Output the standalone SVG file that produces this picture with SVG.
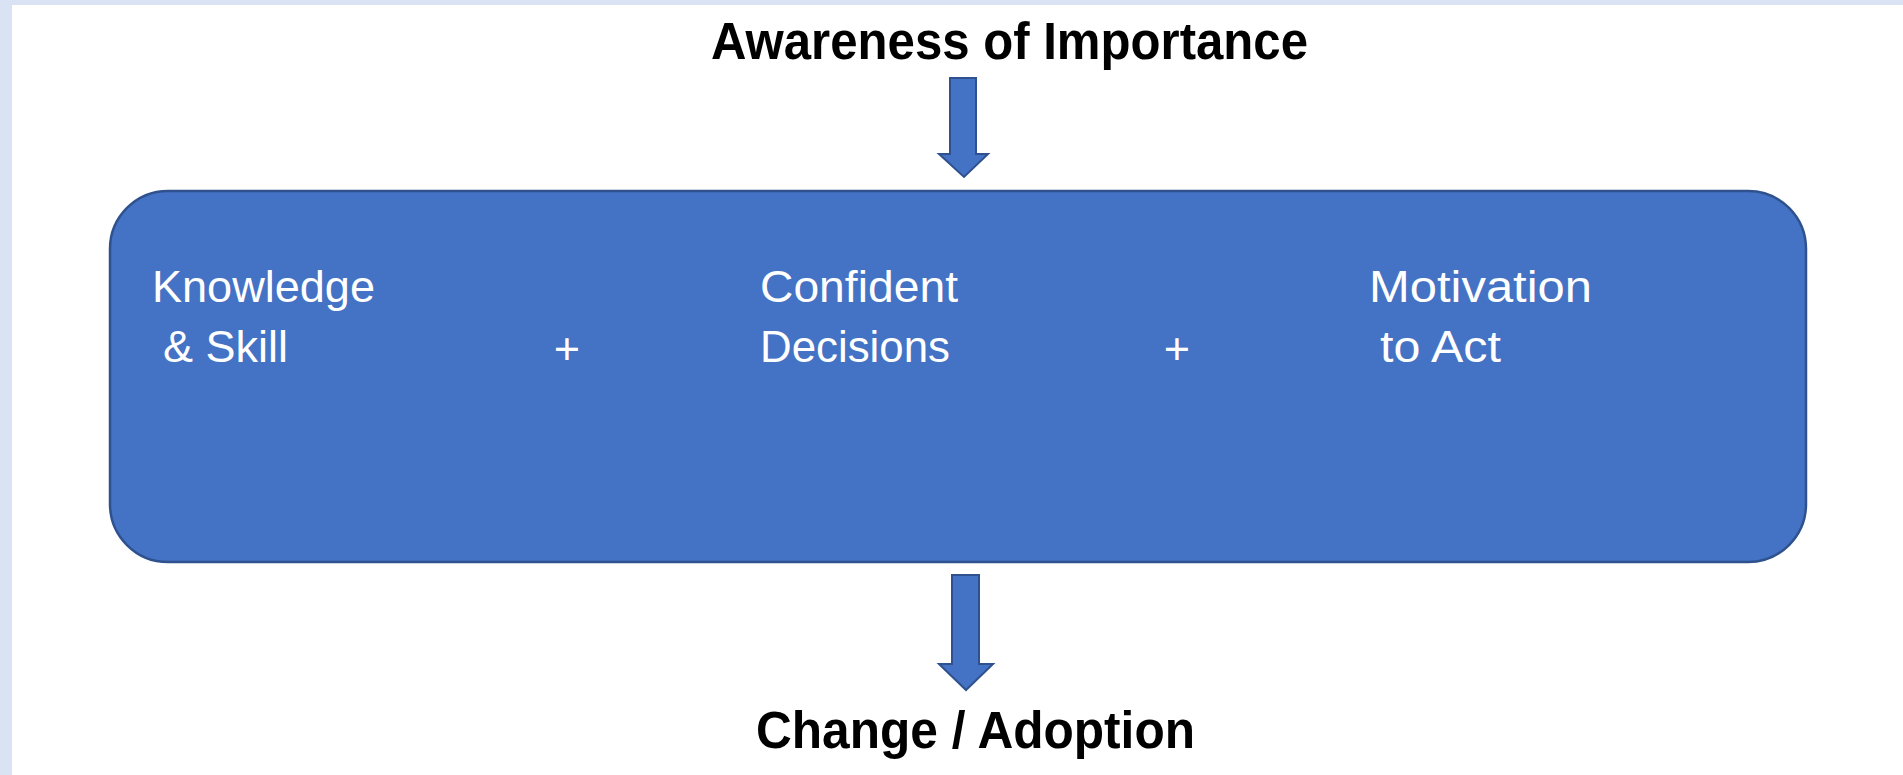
<svg xmlns="http://www.w3.org/2000/svg" width="1903" height="775" viewBox="0 0 1903 775">
  <style>
    .page { fill: #dae3f3; }
    .sheet { fill: #ffffff; }
    .panel { fill: #4472c4; stroke: #2f528f; stroke-width: 2.5; }
    .block-arrow { fill: #4472c4; stroke: #2f528f; stroke-width: 2; stroke-linejoin: miter; }
    .heading { font-family: "Liberation Sans", Arial, sans-serif; font-weight: bold; font-size: 51px; fill: #000000; }
    .label { font-family: "Liberation Sans", Arial, sans-serif; font-size: 45px; fill: #ffffff; }
  </style>

  <!-- page background with light blue frame on top and left -->
  <rect class="page" x="0" y="0" width="1903" height="775"/>
  <rect class="sheet" x="12" y="5" width="1891" height="770"/>

  <!-- input heading -->
  <g id="awareness">
    <text class="heading" x="711" y="59" textLength="597" lengthAdjust="spacingAndGlyphs">Awareness of Importance</text>
  </g>

  <!-- central panel with the three factors -->
  <g id="factors">
    <rect class="panel" x="110" y="191" width="1696" height="371" rx="58" ry="58"/>
    <g id="knowledge-skill">
      <text class="label" x="152" y="302" textLength="223" lengthAdjust="spacingAndGlyphs">Knowledge</text>
      <text class="label" x="163" y="362">&amp; Skill</text>
    </g>
    <text class="label" x="567" y="364" text-anchor="middle">+</text>
    <g id="confident-decisions">
      <text class="label" x="760" y="302" textLength="198" lengthAdjust="spacingAndGlyphs">Confident</text>
      <text class="label" x="760" y="362" textLength="190" lengthAdjust="spacingAndGlyphs">Decisions</text>
    </g>
    <text class="label" x="1177" y="364" text-anchor="middle">+</text>
    <g id="motivation-act">
      <text class="label" x="1369" y="302" textLength="223" lengthAdjust="spacingAndGlyphs">Motivation</text>
      <text class="label" x="1380" y="362" textLength="121" lengthAdjust="spacingAndGlyphs">to Act</text>
    </g>
  </g>

  <!-- output heading -->
  <g id="change-adoption">
    <text class="heading" x="756" y="748" textLength="439" lengthAdjust="spacingAndGlyphs">Change / Adoption</text>
  </g>

  <!-- block arrows into and out of the panel -->
  <g id="connectors">
    <path class="block-arrow" d="M950,78 L976,78 L976,154 L988,154 L964,177 L939,154 L950,154 Z"/>
    <path class="block-arrow" d="M952,575 L979,575 L979,664 L993,664 L966,690 L939,664 L952,664 Z"/>
  </g>
</svg>
